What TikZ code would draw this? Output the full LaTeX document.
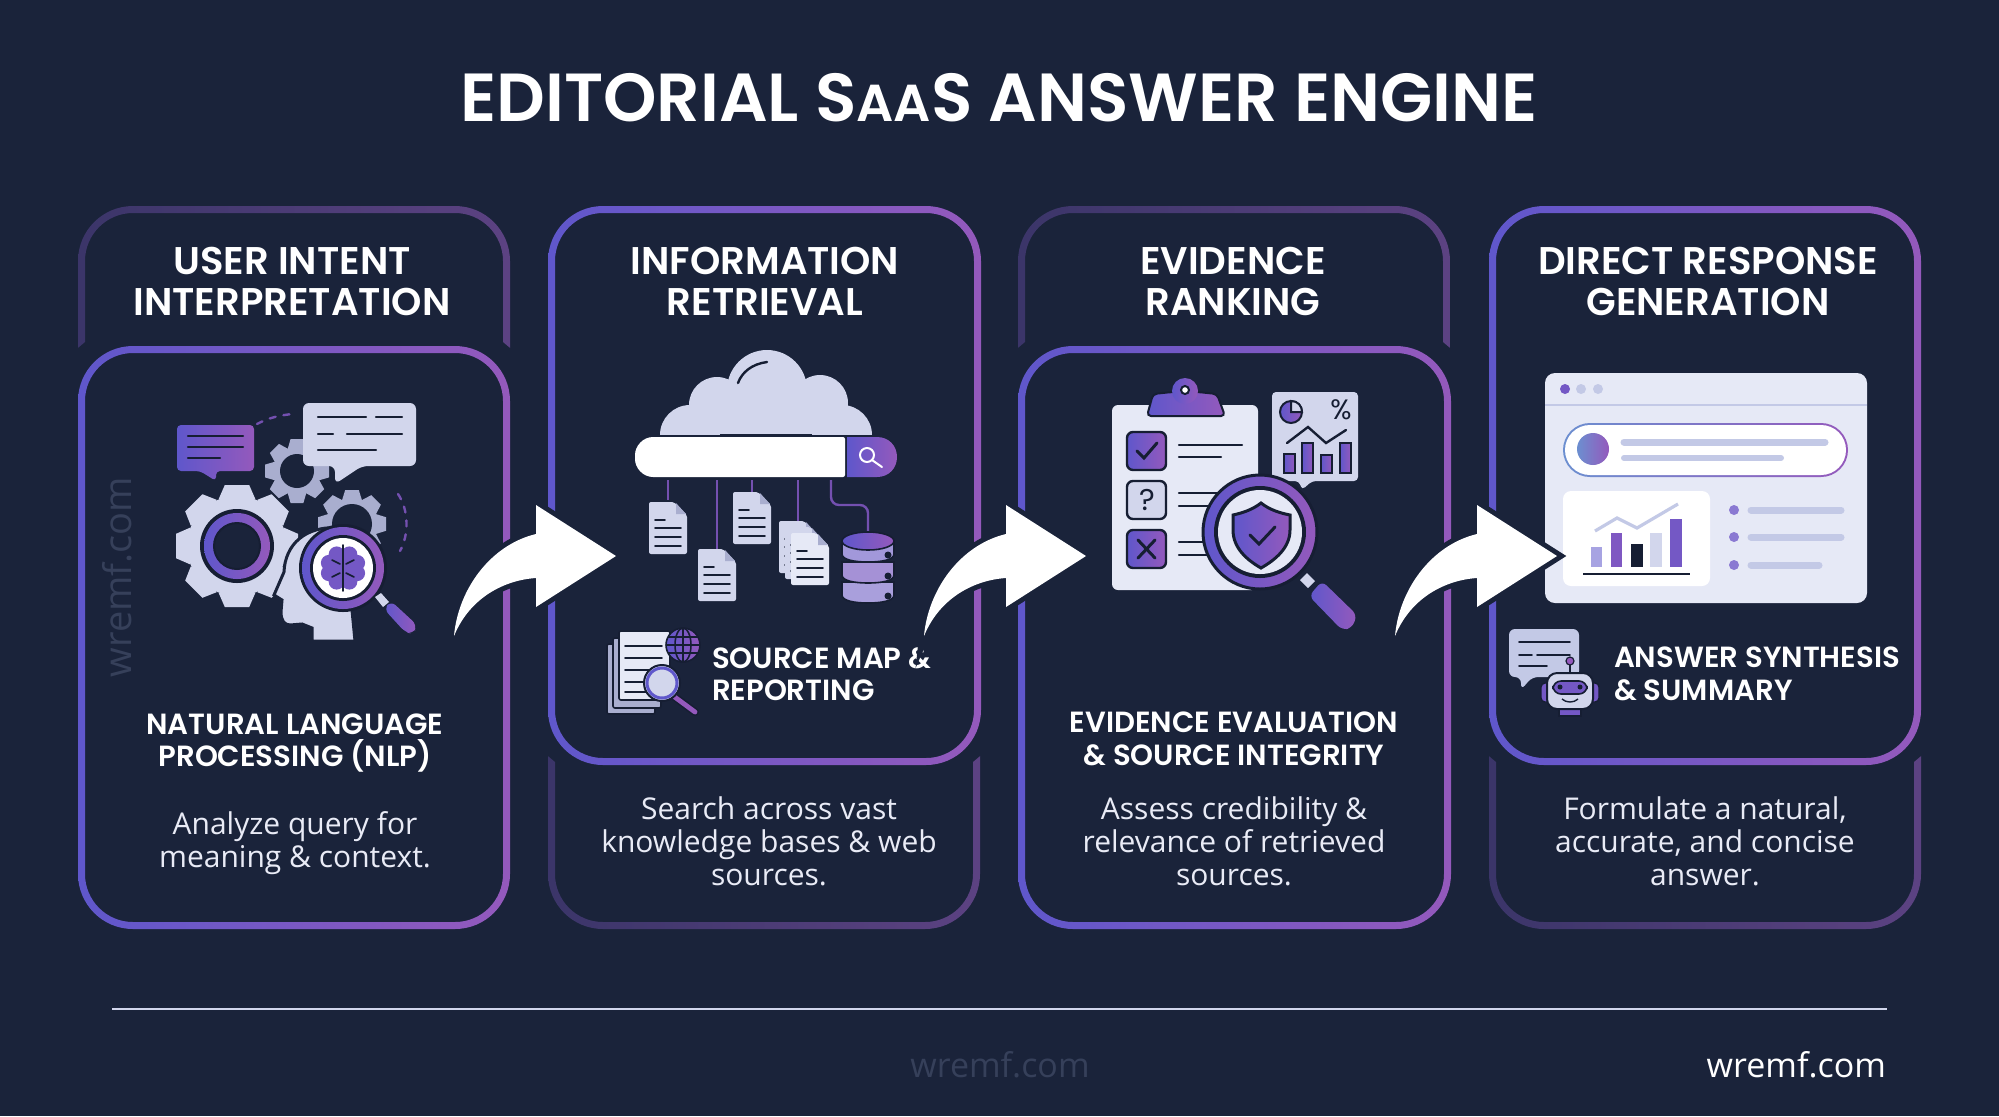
\documentclass[tikz,border=0pt]{standalone}
\usepackage{fontspec}
\setmainfont{Open Sans}
\newfontfamily\headfont{Poppins}[BoldFont={Poppins SemiBold}]
\usetikzlibrary{positioning}

\definecolor{bgnavy}{HTML}{1A233A}
\definecolor{inkdark}{HTML}{161E33}
\definecolor{gradA}{HTML}{5F57CB}
\definecolor{gradB}{HTML}{9459BC}
\definecolor{dimA}{HTML}{3B3569}
\definecolor{dimB}{HTML}{5C4282}
\definecolor{lav}{HTML}{D2D6EC}
\definecolor{palelav}{HTML}{E6E9F6}
\definecolor{graygear}{HTML}{A9AECF}
\definecolor{barlav}{HTML}{C3C9E6}
\definecolor{softpurple}{HTML}{A99FDC}
\definecolor{linkpurple}{HTML}{7450B0}
\definecolor{faintmark}{HTML}{36405A}
\definecolor{softblue}{HTML}{6C8FD0}

\tikzset{
	titletext/.style={font=\headfont\bfseries\fontsize{34}{40}\selectfont,text=white},
	headtext/.style={font=\headfont\bfseries\fontsize{19.3}{20.5}\selectfont,text=white,align=center},
	subtext/.style={font=\headfont\bfseries\fontsize{14.6}{16.3}\selectfont,text=white,align=center},
	sidetext/.style={font=\headfont\bfseries\fontsize{14.6}{16.3}\selectfont,text=white,align=left,anchor=west},
	bodytext/.style={font=\fontsize{15}{16.5}\selectfont,text=lav!50!white,align=center},
	marktext/.style={font=\fontsize{17}{20}\selectfont},
	purplefill/.style={left color=gradA,right color=gradB},
	inkline/.style={draw=inkdark,line width=1.2pt,line cap=round},
	barline/.style={draw=barlav,line width=3.5pt,line cap=round},
	link/.style={draw=linkpurple,line width=1.2pt,rounded corners=4pt},
	flowarrow/.style={fill=white,preaction={draw=bgnavy,line width=5pt,miter limit=10}},
}

% ring with a left to right colour run
\newcommand{\gradframe}[6]{
	\shade[left color=#5,right color=#6,even odd rule]
		{[rounded corners=27.5pt] (#1,#2) rectangle (#3,#4)}
		{[rounded corners=24pt] (#1+7,#2+7) rectangle (#3-7,#4-7)};
}
\newcommand{\dimtop}[1]{
	\begin{scope}
		\clip (#1-5,190) -- (#1+437,190) -- (#1+437,352) -- (#1+425,342) -- (#1+7,342) -- (#1-5,352) -- cycle;
		\gradframe{#1}{206}{#1+432}{929}{dimA}{dimB}
	\end{scope}
}
\newcommand{\dimbottom}[1]{
	\begin{scope}
		\clip (#1-5,945) -- (#1+437,945) -- (#1+437,752) -- (#1+425,762) -- (#1+7,762) -- (#1-5,752) -- cycle;
		\gradframe{#1}{206}{#1+432}{929}{dimA}{dimB}
	\end{scope}
}
\newcommand{\gearicon}[6]{
	\fill[#6] (#1,#2) circle (#3);
	\foreach \a in {0,45,...,315}
		\fill[#6,shift={(#1,#2)},rotate=\a] (-#4*.3,#3-3) -- (-#4*.2,#4) -- (#4*.2,#4) -- (#4*.3,#3-3) -- cycle;
	\fill[bgnavy] (#1,#2) circle (#5);
}
\newcommand{\docicon}[3]{
	\begin{scope}[shift={(#1,#2)}]
		\path[fill=#3,rounded corners=1pt] (0,0) -- (25,0) -- (38,13) -- (38,52) -- (0,52) -- cycle;
		\fill[graygear] (27,1) -- (37,12) -- (27,12) -- cycle;
		\draw[inkline,line width=.8pt] (6,18) -- (16,18);
		\foreach \ly in {26,35,44} \draw[inkline,line width=.8pt] (6,\ly) -- (32,\ly);
	\end{scope}
}

\begin{document}
\begin{tikzpicture}[x=0.5pt,y=-0.5pt]
	\useasboundingbox (0,0) rectangle (1999,1116);
	\fill[bgnavy] (0,0) rectangle (1999,1116);

	% frames
	\dimtop{78}
	\gradframe{78}{346}{510}{929}{gradA}{gradB}
	\dimbottom{548}
	\gradframe{548}{206}{981}{765}{gradA}{gradB}
	\dimtop{1018}
	\gradframe{1018}{346}{1451}{929}{gradA}{gradB}
	\dimbottom{1489}
	\gradframe{1489}{206}{1921}{765}{gradA}{gradB}

	\node[titletext] (title) at (999,98) {EDITORIAL S{\fontsize{26}{30}\selectfont AA}S ANSWER ENGINE};

	\node[headtext] (head1) at (292,281) {USER INTENT\\INTERPRETATION};
	\node[headtext] (head2) at (765,281) {INFORMATION\\RETRIEVAL};
	\node[headtext] (head3) at (1233,281) {EVIDENCE\\RANKING};
	\node[headtext] (head4) at (1708,281) {DIRECT RESPONSE\\GENERATION};

	\node[subtext] (sub1) at (295,743) {NATURAL LANGUAGE\\PROCESSING (NLP)};
	\node[subtext] (sub3) at (1234,739) {EVIDENCE EVALUATION\\\& SOURCE INTEGRITY};
	\node[sidetext] (side2) at (705,674) {SOURCE MAP \&\\REPORTING};
	\node[sidetext] (side4) at (1607,674) {ANSWER SYNTHESIS\\\& SUMMARY};

	\node[bodytext] (body1) at (295,843) {Analyze query for\\meaning \& context.};
	\node[bodytext] (body2) at (769,841) {Search across vast\\knowledge bases \& web\\sources.};
	\node[bodytext] (body3) at (1234,841) {Assess credibility \&\\relevance of retrieved\\sources.};
	\node[bodytext] (body4) at (1705,841) {Formulate a natural,\\accurate, and concise\\answer.};

	\node[marktext,text=faintmark,rotate=90,font=\fontsize{19}{20}\selectfont] (markside) at (117,577) {wremf.com};
	\node[marktext,text=faintmark] (markmid) at (1000,1065) {wremf.com};
	\node[marktext,text=white,anchor=east] (markright) at (1893,1065) {wremf.com};
	\coordinate (ruleL) at (112,1009);
	\coordinate (ruleR) at (1887,1009);
	\draw[lav,line width=1.2pt] (ruleL) -- (ruleR);

	% icon 1, gears and head
	\path[purplefill,rounded corners=2pt] (177,425) -- (254,425) -- (254,471) -- (216,471) -- (216,481) -- (200,471) -- (177,471) -- cycle;
	\draw[inkline] (188,436) -- (243,436) (188,447) -- (243,447) (188,458) -- (220,458);
	\gearicon{297}{471}{24}{32}{17}{graygear}
	\gearicon{352}{524}{26}{34}{20}{graygear}
	\path[fill=lav,rounded corners=3pt] (303,403) -- (416,403) -- (416,466) -- (362,466) -- (335,484) -- (335,466) -- (303,466) -- cycle;
	\draw[inkline] (318,417) -- (366,417) (376,417) -- (402,417) (318,434) -- (333,434) (347,434) -- (402,434) (318,450) -- (376,450);
	\draw[linkpurple,line width=1.2pt,dash pattern=on 3pt off 4pt,line cap=round] (257,424) .. controls (268,418) and (280,415) .. (293,414);
	\draw[linkpurple,line width=1.2pt,dash pattern=on 3pt off 4pt,line cap=round] (398,494) .. controls (409,510) and (409,535) .. (400,551);
	\gearicon{237}{546}{50}{61}{22}{lav}
	\fill[inkdark] (237,546) circle (37);
	\path[purplefill] (237,546) circle (33);
	\path[fill=bgnavy,draw=inkdark,line width=1pt] (237,546) circle (23);
	\path[fill=lav,draw=bgnavy,line width=1.5pt] (340,528) .. controls (305,525) and (285,545) .. (284,572) -- (274,595) -- (282,600) -- (281,612) .. controls (281,620) and (284,625) .. (290,625) -- (302,624) -- (312,628) -- (312,641) -- (355,641) -- (352,610) -- cycle;
	\fill[inkdark] (343,568) circle (44);
	\path[purplefill] (343,568) circle (41);
	\fill[inkdark] (343,568) circle (33);
	\fill[white] (343,568) circle (30);
	\foreach \a in {20,65,115,160,200,245,295,340}
		\fill[gradA!60!gradB] (343,568) ++(\a:15) circle (8);
	\fill[gradA!60!gradB] (343,568) circle (12);
	\draw[inkline,line width=.8pt] (343,545) -- (343,591) (332,560) -- (340,564) (354,560) -- (346,564) (332,577) -- (340,573) (354,577) -- (346,573);
	\fill[lav] (375,597) -- (381,593) -- (389,602) -- (383,607) -- cycle;
	\path[purplefill,line cap=round,rounded corners=3pt] (384,609) -- (391,601) -- (417,625) -- (413,634) -- (405,632) -- cycle;

	% icon 2, cloud and search bar
	\begin{scope}
		\clip (640,340) rectangle (890,434);
		\fill[lav] (767,390) circle (40) (717,405) circle (28) (820,403) circle (28) (690,435) circle (30) (842,435) circle (30);
		\fill[lav] (700,410) rectangle (835,434);
	\end{scope}
	\draw[inkline] (738,383) .. controls (742,372) and (752,364) .. (767,362);
	\fill[white,rounded corners=1pt] (845,437) -- (655,437) .. controls (643,437) and (635,446) .. (635,457) .. controls (635,468) and (643,477) .. (655,477) -- (845,477) -- cycle;
	\path[purplefill] (847,437) -- (877,437) .. controls (889,437) and (897,446) .. (897,457) .. controls (897,468) and (889,477) .. (877,477) -- (847,477) -- cycle;
	\draw[white,line width=1pt,line cap=round] (867,455) circle (7) (872,460) -- (882,467);
	\coordinate (bar1) at (668,480);
	\coordinate (bar2) at (717,480);
	\coordinate (bar3) at (752,480);
	\coordinate (bar4) at (798,480);
	\coordinate (bar5) at (831,480);
	\coordinate (db) at (868,531);
	\draw[link] (bar1) -- (668,500);
	\draw[link] (bar2) -- (717,549);
	\draw[link] (bar3) -- (752,492);
	\draw[link] (bar4) -- (798,522);
	\draw[link] (bar5) -- (831,505) -- (868,505) -- (db);
	\docicon{649}{502}{lav}
	\docicon{698}{549}{lav}
	\docicon{733}{492}{lav}
	\docicon{779}{521}{lav}
	\docicon{785}{527}{lav}
	\docicon{791}{533}{palelav}
	% database
	\foreach \by/\bc in {582/softpurple,562/softpurple!80!gradB,541/softpurple!90!gradA}{
		\path[fill=\bc,draw=inkdark,line width=.8pt] (842,\by) -- (842,\by+13) .. controls (842,\by+19) and (855,\by+21) .. (868,\by+21) .. controls (881,\by+21) and (894,\by+19) .. (894,\by+13) -- (894,\by) -- cycle;
		\fill[inkdark] (888,\by+14) circle (3.5);
	}
	\path[purplefill,draw=inkdark,line width=.8pt] (868,541) ellipse (26 and 9);
	% small source icon
	\foreach \sx/\sy in {607/644,613/638}
		\path[fill=graygear,draw=inkdark,line width=.8pt,rounded corners=1pt] (\sx,\sy) rectangle ++(48,70);
	\path[fill=palelav,draw=inkdark,line width=.8pt,rounded corners=1pt] (619,631) -- (670,631) -- (670,700) -- (619,700) -- cycle;
	\foreach \ly in {646,658,670,682,692} \draw[inkline,line width=.8pt] (625,\ly) -- (662,\ly);
	\path[purplefill,draw=inkdark,line width=.8pt] (683,645) circle (17);
	\draw[inkdark,line width=.8pt] (683,645) ellipse (8 and 17) (666,645) -- (700,645) (683,628) -- (683,662) (668,637) -- (698,637) (668,653) -- (698,653);
	\draw[inkdark,line width=4pt,line cap=round] (672,695) -- (695,712);
	\draw[gradB,line width=2.4pt,line cap=round] (672,695) -- (695,712);
	\path[fill=lav,draw=inkdark,line width=1pt] (662,683) circle (18);
	\draw[gradA,line width=1.5pt] (662,683) circle (15);

	% icon 3, clipboard and lens
	\fill[palelav,rounded corners=3pt] (1112,405) rectangle (1258,590);
	\path[purplefill,draw=inkdark,line width=1pt,rounded corners=2pt] (1147,416) -- (1153,394) -- (1172,392) -- (1198,392) -- (1217,394) -- (1225,416) -- cycle;
	\path[purplefill] (1185,391) circle (13);
	\path[fill=white,draw=inkdark,line width=1pt] (1185,390) circle (4);
	\path[purplefill,draw=inkdark,line width=1.2pt,rounded corners=3pt] (1127,432) rectangle (1166,470);
	\path[fill=lav,draw=inkdark,line width=1.2pt,rounded corners=3pt] (1127,481) rectangle (1166,519);
	\path[purplefill,draw=inkdark,line width=1.2pt,rounded corners=3pt] (1127,530) rectangle (1166,568);
	\draw[inkline,line width=1.5pt] (1137,451) -- (1144,458) -- (1157,443);
	\draw[inkline,line width=1.5pt] (1138,540) -- (1155,558) (1155,540) -- (1138,558);
	\node[font=\headfont\fontsize{15}{15}\selectfont,text=inkdark] (quest) at (1147,500) {?};
	\draw[inkline] (1179,445) -- (1242,445) (1179,457) -- (1221,457) (1179,493) -- (1225,493) (1179,506) -- (1225,506) (1179,542) -- (1225,542) (1179,555) -- (1225,555);
	\path[fill=lav,rounded corners=2pt] (1272,392) -- (1358,392) -- (1358,481) -- (1312,481) -- (1302,490) -- (1299,481) -- (1272,481) -- cycle;
	\path[purplefill,draw=inkdark,line width=1pt] (1291,412) circle (11);
	\path[fill=lav,draw=inkdark,line width=1pt] (1291,412) -- (1291,401) .. controls (1298,401) and (1302,406) .. (1302,412) -- cycle;
	\node[font=\headfont\fontsize{14}{14}\selectfont,text=inkdark] (pct) at (1341,410) {\%};
	\draw[inkline] (1287,443) -- (1308,427) -- (1326,443) -- (1346,430);
	\foreach \bx/\by in {1284/454,1302/443,1321/455,1340/443}
		\path[purplefill,draw=inkdark,line width=.8pt] (\bx,\by) rectangle (\bx+11,473);
	\path[purplefill,draw=inkdark,line width=1.5pt] (1260,532) circle (57);
	\fill[inkdark] (1260,532) circle (46);
	\fill[palelav] (1260,532) circle (42);
	\path[purplefill,draw=inkdark,line width=1.5pt] (1261,503) .. controls (1270,510) and (1280,513) .. (1290,515) -- (1290,530) .. controls (1290,548) and (1275,560) .. (1261,568) .. controls (1247,560) and (1233,548) .. (1233,530) -- (1233,515) .. controls (1242,513) and (1252,510) .. (1261,503) -- cycle;
	\draw[inkline,line width=1.5pt] (1250,535) -- (1259,544) -- (1275,527);
	\fill[lav] (1300,580) -- (1307,573) -- (1315,581) -- (1308,588) -- cycle;
	\path[purplefill,rounded corners=3pt] (1309,596) -- (1322,581) -- (1357,615) -- (1352,628) -- (1342,630) -- cycle;

	% icon 4, answer window
	\fill[palelav,rounded corners=5pt] (1545,373) rectangle (1867,603);
	\fill[gradA!60!gradB] (1565,389) circle (5);
	\fill[barlav] (1581,389) circle (5) (1598,389) circle (5);
	\draw[barlav,line width=.6pt] (1545,405) -- (1867,405);
	\shade[left color=softblue,right color=gradB,rounded corners=13.5pt] (1563,423) rectangle (1848,477);
	\fill[white,rounded corners=12.5pt] (1565,425) rectangle (1846,475);
	\shade[left color=softblue,right color=gradB] (1593,449) circle (16);
	\draw[barline] (1624,442) -- (1825,442);
	\draw[barline,line width=3pt] (1624,458) -- (1781,458);
	\fill[white,rounded corners=4pt] (1563,491) rectangle (1710,586);
	\draw[barlav,line width=1.6pt] (1595,531) -- (1617,518) -- (1637,528) -- (1678,504);
	\fill[gradA!55!white] (1591,547) rectangle (1602,567);
	\fill[gradA!40!gradB] (1611,533) rectangle (1622,567);
	\fill[inkdark] (1631,544) rectangle (1643,567);
	\fill[lav] (1650,533) rectangle (1662,567);
	\fill[gradA!60!gradB] (1670,519) rectangle (1682,567);
	\draw[inkdark,line width=1pt] (1583,574) -- (1690,574);
	\foreach \ly/\lx in {510/1841,537/1841,565/1819}{
		\fill[gradA!75!gradB!80!white] (1734,\ly) circle (5);
		\draw[barline] (1751,\ly) -- (\lx,\ly);
	}
	% small robot icon
	\path[fill=barlav,rounded corners=3pt] (1509,629) -- (1579,629) -- (1579,677) -- (1532,677) -- (1521,690) -- (1521,677) -- (1509,677) -- cycle;
	\draw[inkline,line width=.8pt] (1519,642) -- (1570,642) (1519,655) -- (1532,655) (1537,655) -- (1570,655) (1519,666) -- (1547,666);
	\path[fill=gradB,draw=inkdark,line width=.6pt] (1570,661) circle (4);
	\draw[inkdark,line width=1pt] (1570,665) -- (1570,674);
	\path[fill=gradA!60!gradB,draw=inkdark,line width=.7pt,rounded corners=2pt] (1541,683) rectangle (1599,702);
	\path[fill=gradA!60!gradB,draw=inkdark,line width=.7pt] (1559,709) rectangle (1581,716);
	\path[fill=lav,draw=inkdark,line width=1pt,rounded corners=5pt] (1547,673) rectangle (1593,709);
	\path[fill=gradA!60!gradB,draw=inkdark,line width=.8pt,rounded corners=4pt] (1553,681) rectangle (1587,694);
	\fill[inkdark] (1560,687) circle (2.5) (1580,687) circle (2.5);
	\draw[inkdark,line width=.7pt] (1562,699) .. controls (1566,703) and (1574,703) .. (1578,699);

	% flow arrows
	\foreach \n/\dx in {1/0,2/470,3/941}{
		\begin{scope}[shift={(\dx,0)}]
			\coordinate (tail\n) at (454,636);
			\coordinate (tip\n) at (616,556);
			\path[flowarrow] (tail\n) .. controls (458,590) and (490,545) .. (536,534) -- (536,505) -- (tip\n) -- (536,607) -- (536,578) .. controls (505,580) and (470,597) .. (tail\n) -- cycle;
		\end{scope}
	}
\end{tikzpicture}
\end{document}
